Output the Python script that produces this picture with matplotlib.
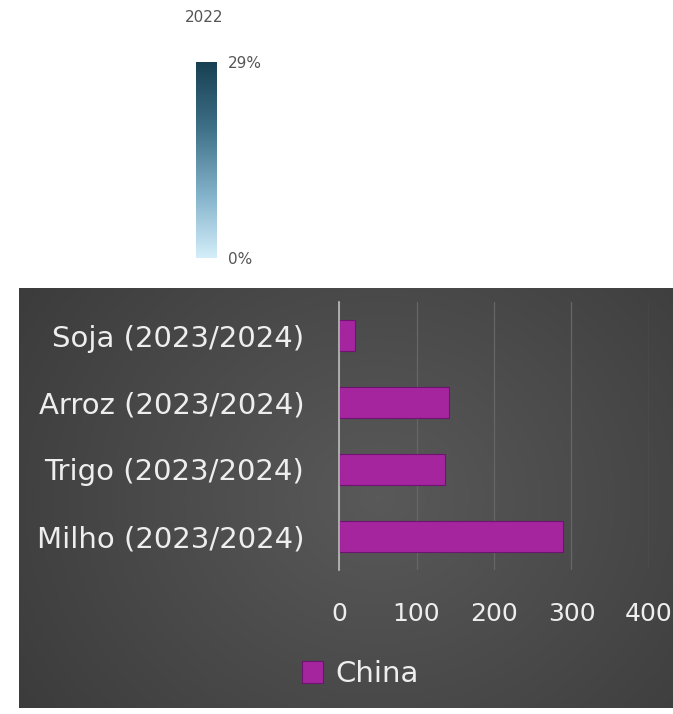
import numpy as np
import matplotlib
matplotlib.use("Agg")
import matplotlib.pyplot as plt
from matplotlib.colors import LinearSegmentedColormap

# data
culturas = ['Milho (2023/2024)', 'Trigo (2023/2024)', 'Arroz (2023/2024)', 'Soja (2023/2024)']
china = [289, 137, 142, 21]
x_ticks = [0, 100, 200, 300, 400]
legenda_ano = '2022'
escala_min = 0
escala_max = 29

W, H = 673, 714
fig = plt.figure(figsize=(W / 100, H / 100), dpi=100)
fig.patch.set_facecolor('white')

# dark panel with radial gradient
bg = fig.add_axes([19 / W, (H - 708) / H, (W - 19) / W, (708 - 288) / H])
yy, xx = np.mgrid[0:1:200j, 0:1:200j]
r = np.sqrt(((xx - 0.55) / 0.8) ** 2 + ((yy - 0.5) / 1.1) ** 2)
shade = np.clip(0.35 - 0.14 * r, 0.2, 0.35)
bg.imshow(np.dstack([shade] * 3), aspect='auto', extent=[0, 1, 0, 1])
bg.axis('off')

# colour scale legend (top)
cmap = LinearSegmentedColormap.from_list('azul', ['#d4eefa', '#7fb0c8', '#3d6f86', '#173f52'])
cax = fig.add_axes([196 / W, (H - 258) / H, 20 / W, 196 / H])
grad = np.linspace(escala_min, escala_max, 256).reshape(-1, 1)
cax.imshow(grad, aspect='auto', cmap=cmap, origin='lower',
           extent=[0, 1, escala_min, escala_max])
cax.axis('off')
fig.text(204 / W, 1 - 17 / H, legenda_ano, fontsize=11, color='#555555', ha='center', va='center')
fig.text(228 / W, 1 - 63 / H, f'{escala_max}%', fontsize=11, color='#555555', ha='left', va='center')
fig.text(228 / W, 1 - 260 / H, f'{escala_min}%', fontsize=11, color='#555555', ha='left', va='center')

# bar chart
ax = fig.add_axes([339 / W, (H - 570) / H, 310 / W, 268 / H])
ax.patch.set_alpha(0)
pos = np.arange(len(culturas))
bars = ax.barh(pos, china, height=0.47, color='#a5259f', edgecolor='#6e1470',
               linewidth=0.8, label='China', zorder=3)
ax.set_xlim(0, 400)
ax.set_ylim(-0.5, len(culturas) - 0.5)
ax.set_xticks(x_ticks)
ax.set_yticks(pos)
ax.set_yticklabels(culturas)
ax.tick_params(axis='x', length=0, pad=23, labelsize=18, labelcolor='#eeeeee')
ax.tick_params(axis='y', length=0, pad=25, labelsize=21, labelcolor='#eeeeee')
ax.grid(axis='x', color='#666666', linewidth=0.9, zorder=0)
for s in ['top', 'right', 'bottom']:
    ax.spines[s].set_visible(False)
ax.spines['left'].set_color('#bdbdbd')
ax.spines['left'].set_linewidth(1.2)
ax.spines['left'].set_zorder(4)

leg = fig.legend(loc='center', bbox_to_anchor=(360 / W, (H - 674) / H), frameon=False,
                 fontsize=21, labelcolor='#eeeeee', handlelength=0.75, handleheight=0.75,
                 handletextpad=0.4)

fig.savefig('out.png', dpi=100, facecolor='white')
